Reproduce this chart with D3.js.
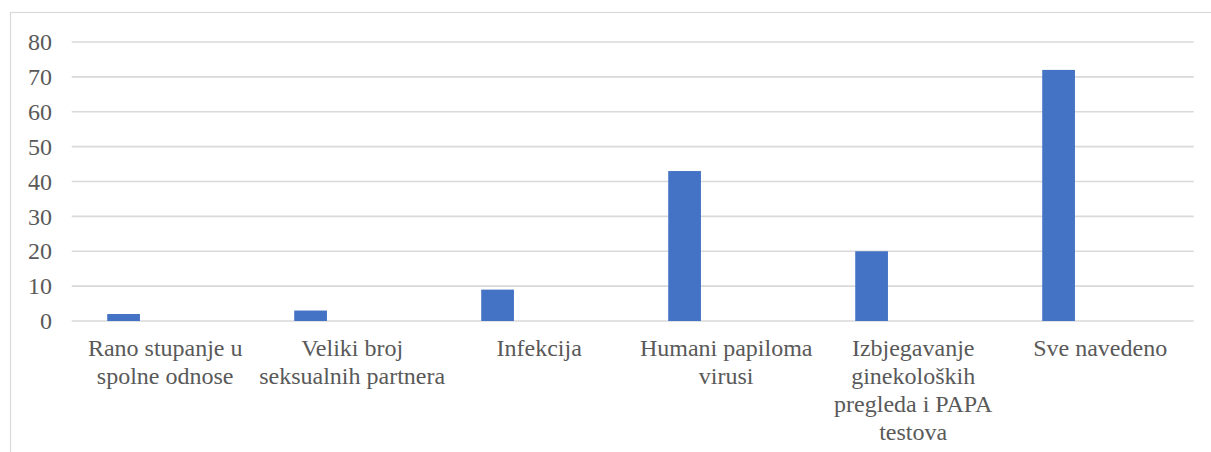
<!DOCTYPE html>
<html>
<head>
<meta charset="utf-8">
<script src="https://cdn.jsdelivr.net/npm/d3@7"></script>
<style>
  html, body { margin: 0; padding: 0; background: #fff; }
  svg { display: block; }
  svg text { font-family: "Liberation Serif", "Times New Roman", Times, serif; fill: #595959; }
</style>
</head>
<body>
<svg id="chart" width="1211" height="452"></svg>
<script>
// Chart data
const categories = [
  "Rano stupanje u spolne odnose",
  "Veliki broj seksualnih partnera",
  "Infekcija",
  "Humani papiloma virusi",
  "Izbjegavanje ginekoloških pregleda i PAPA testova",
  "Sve navedeno"
];
const values = [2, 3, 9, 43, 20, 72];
const yTicks = [0, 10, 20, 30, 40, 50, 60, 70, 80];

// Layout
const W = 1211, H = 452;
const plot = { left: 71.7, right: 1193.7, top: 42, bottom: 321 };
const fontSize = 24;
const lineHeight = 28;
const barColor = "#4472C4";
const gridColor = "#d9d9d9";
const serif = "'Liberation Serif', 'Times New Roman', Times, serif";

const svg = d3.select("#chart");

// Chart-area border
svg.append("rect")
  .attr("x", 10.5).attr("y", 12.5)
  .attr("width", W + 10).attr("height", H + 10)
  .attr("fill", "none")
  .attr("stroke", gridColor)
  .attr("stroke-width", 1.2);

const x = d3.scaleBand()
  .domain(categories)
  .range([plot.left, plot.right])
  .paddingInner(0).paddingOuter(0);

const y = d3.scaleLinear()
  .domain([0, 80])
  .range([plot.bottom, plot.top]);

// Horizontal gridlines
svg.append("g")
  .selectAll("line")
  .data(yTicks)
  .join("line")
  .attr("x1", plot.left).attr("x2", plot.right)
  .attr("y1", d => y(d)).attr("y2", d => y(d))
  .attr("stroke", gridColor)
  .attr("stroke-width", 1.6);

// Y axis labels
const yAxis = d3.axisLeft(y).tickValues(yTicks).tickSize(0).tickPadding(0).tickFormat(d3.format("d"));
const gy = svg.append("g")
  .attr("transform", `translate(${52},0)`)
  .call(yAxis)
  .attr("font-family", serif)
  .attr("font-size", fontSize);
gy.select(".domain").remove();
gy.selectAll("text")
  .style("font-family", serif)
  .style("font-size", fontSize + "px")
  .attr("fill", "#595959");

// Bars (sit left of the category centre)
const barW = x.bandwidth() * 0.175;
const barOffset = x.bandwidth() * 0.19;
svg.append("g")
  .selectAll("rect")
  .data(categories.map((c, i) => ({ c, v: values[i] })))
  .join("rect")
  .attr("x", d => x(d.c) + barOffset)
  .attr("width", barW)
  .attr("y", d => y(d.v))
  .attr("height", d => y(0) - y(d.v))
  .attr("fill", barColor);

// Category labels, wrapped to the band width
const gx = svg.append("g").style("font-family", serif).style("font-size", fontSize + "px");
const measurer = gx.append("text").attr("visibility", "hidden");
function textWidth(s) { measurer.text(s); return measurer.node().getComputedTextLength(); }
function wrap(label, maxW) {
  const words = label.split(" ");
  const lines = [];
  let cur = "";
  words.forEach(w => {
    const t = cur ? cur + " " + w : w;
    if (cur && textWidth(t) > maxW) { lines.push(cur); cur = w; }
    else cur = t;
  });
  if (cur) lines.push(cur);
  return lines;
}
categories.forEach(c => {
  const lines = wrap(c, x.bandwidth());
  const t = gx.append("text")
    .attr("text-anchor", "middle");
  lines.forEach((ln, i) => {
    t.append("tspan")
      .attr("x", x(c) + x.bandwidth() / 2)
      .attr("y", 356 + i * lineHeight)
      .text(ln);
  });
});
measurer.remove();
</script>
</body>
</html>
